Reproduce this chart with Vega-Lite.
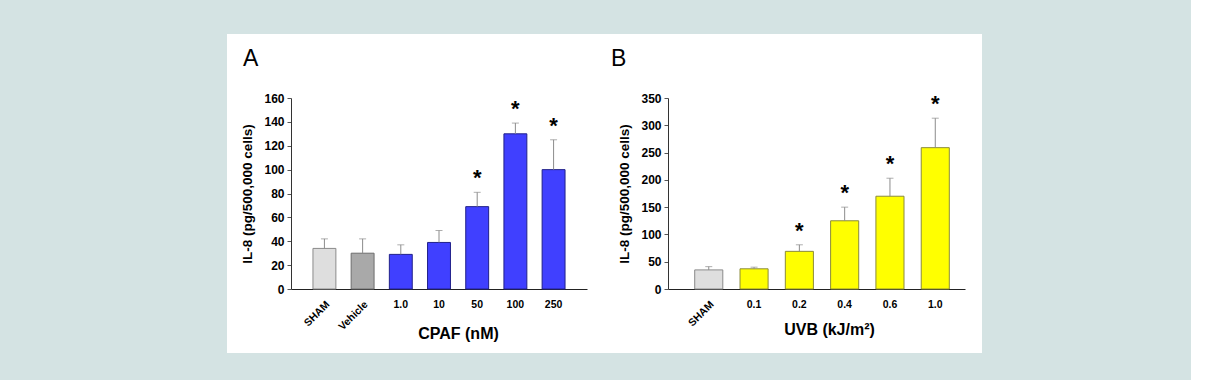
{
  "$schema": "https://vega.github.io/schema/vega-lite/v6.json",
  "autosize": {"type": "none"},
  "padding": {"left": 291, "top": 98, "right": 900, "bottom": 282},
  "background": "#d4e3e3",
  "spacing": 81,
  "bounds": "flush",
  "resolve": {"scale": {"fill": "independent", "stroke": "independent"}},
  "config": {
    "font": "Liberation Sans",
    "axis": {"grid": false, "labelFont": "Liberation Sans", "titleFont": "Liberation Sans", "labelColor": "#000", "titleColor": "#000", "labelFontWeight": "bold", "titleFontWeight": "bold", "domainColor": "#333"},
    "title": {"font": "Liberation Sans", "fontWeight": "normal", "fontSize": 23, "color": "#000", "anchor": "start", "frame": "group", "baseline": "alphabetic"}
  },
  "hconcat": [
    {
      "width": 296,
      "height": 191,
      "view": {"fill": "white", "stroke": "white", "strokeWidth": 128},
      "title": {"text": "A", "dx": -48, "offset": 21},
      "data": {"values": [
        {"treatment": "SHAM", "group": "SHAM", "value": 34, "upper": 42, "star": ""},
        {"treatment": "Vehicle", "group": "Vehicle", "value": 30, "upper": 42, "star": ""},
        {"treatment": "1.0", "group": "CPAF", "value": 29, "upper": 37, "star": ""},
        {"treatment": "10", "group": "CPAF", "value": 39, "upper": 49, "star": ""},
        {"treatment": "50", "group": "CPAF", "value": 69, "upper": 81, "star": "*"},
        {"treatment": "100", "group": "CPAF", "value": 130, "upper": 139, "star": "*"},
        {"treatment": "250", "group": "CPAF", "value": 100, "upper": 125, "star": "*"}
      ]},
      "encoding": {
        "x": {"field": "treatment", "type": "nominal", "sort": null,
          "scale": {"paddingInner": 0.4, "paddingOuter": 0.575},
          "axis": {"title": "CPAF (nM)", "titleFontSize": 16, "titlePadding": -7, "titleX": 167, "ticks": false, "labelFontSize": 10.5, "labelPadding": 10, "domainColor": "#222",
            "labelAngle": {"expr": "datum.value === 'SHAM' || datum.value === 'Vehicle' ? -45 : 0"},
            "labelAlign": {"expr": "datum.value === 'SHAM' || datum.value === 'Vehicle' ? 'right' : 'center'"},
            "labelBaseline": "top"}},
        "y": {"field": "value", "type": "quantitative",
          "scale": {"domain": [0, 160], "nice": false},
          "axis": {"title": "IL-8 (pg/500,000 cells)", "values": [0, 20, 40, 60, 80, 100, 120, 140, 160], "tickSize": 4, "tickColor": "#555", "labelPadding": 3, "labelFontSize": 12, "titleFontSize": 13.5, "titlePadding": 9}}
      },
      "layer": [
        {"mark": {"type": "bar", "strokeWidth": 1},
         "encoding": {
           "fill": {"field": "group", "type": "nominal", "legend": null, "scale": {"domain": ["SHAM", "Vehicle", "CPAF"], "range": ["#dedede", "#a9a9a9", "#4040ff"]}},
           "stroke": {"field": "group", "type": "nominal", "legend": null, "scale": {"domain": ["SHAM", "Vehicle", "CPAF"], "range": ["#8a8a8a", "#6e6e6e", "#20208a"]}}}},
        {"mark": {"type": "rule", "color": "#8c8c8c", "strokeWidth": 1},
         "encoding": {"y": {"field": "value", "type": "quantitative"}, "y2": {"field": "upper"}}},
        {"mark": {"type": "tick", "orient": "horizontal", "color": "#8c8c8c", "size": 7, "thickness": 1},
         "encoding": {"y": {"field": "upper", "type": "quantitative"}}},
        {"mark": {"type": "text", "fontSize": 22, "fontWeight": "bold", "baseline": "alphabetic", "dy": -7, "color": "#000"},
         "encoding": {"y": {"field": "upper", "type": "quantitative"}, "text": {"field": "star"}}}
      ]
    },
    {
      "width": 297,
      "height": 191,
      "view": {"fill": "white", "stroke": "white", "strokeWidth": 128},
      "title": {"text": "B", "dx": -57, "offset": 21},
      "data": {"values": [
        {"treatment": "SHAM", "group": "SHAM", "value": 35, "upper": 41, "star": ""},
        {"treatment": "0.1", "group": "UVB", "value": 37, "upper": 40, "star": ""},
        {"treatment": "0.2", "group": "UVB", "value": 69, "upper": 81, "star": "*"},
        {"treatment": "0.4", "group": "UVB", "value": 125, "upper": 150, "star": "*"},
        {"treatment": "0.6", "group": "UVB", "value": 170, "upper": 203, "star": "*"},
        {"treatment": "1.0", "group": "UVB", "value": 259, "upper": 313, "star": "*"}
      ]},
      "encoding": {
        "x": {"field": "treatment", "type": "nominal", "sort": null,
          "scale": {"paddingInner": 0.38, "paddingOuter": 0.468, "align": 0.63},
          "axis": {"title": "UVB (kJ/m²)", "titleFontSize": 16, "titlePadding": -7, "titleX": 161, "ticks": false, "labelFontSize": 10.5, "labelPadding": 10, "domainColor": "#222",
            "labelAngle": {"expr": "datum.value === 'SHAM' ? -45 : 0"},
            "labelAlign": {"expr": "datum.value === 'SHAM' ? 'right' : 'center'"},
            "labelBaseline": "top"}},
        "y": {"field": "value", "type": "quantitative",
          "scale": {"domain": [0, 350], "nice": false},
          "axis": {"title": "IL-8 (pg/500,000 cells)", "values": [0, 50, 100, 150, 200, 250, 300, 350], "tickSize": 4, "tickColor": "#555", "labelPadding": 3, "labelFontSize": 12, "titleFontSize": 13.5, "titlePadding": 9}}
      },
      "layer": [
        {"mark": {"type": "bar", "strokeWidth": 1},
         "encoding": {
           "fill": {"field": "group", "type": "nominal", "legend": null, "scale": {"domain": ["SHAM", "UVB"], "range": ["#dedede", "#ffff00"]}},
           "stroke": {"field": "group", "type": "nominal", "legend": null, "scale": {"domain": ["SHAM", "UVB"], "range": ["#8a8a8a", "#8b8b3a"]}}}},
        {"mark": {"type": "rule", "color": "#8c8c8c", "strokeWidth": 1},
         "encoding": {"y": {"field": "value", "type": "quantitative"}, "y2": {"field": "upper"}}},
        {"mark": {"type": "tick", "orient": "horizontal", "color": "#8c8c8c", "size": 7, "thickness": 1},
         "encoding": {"y": {"field": "upper", "type": "quantitative"}}},
        {"mark": {"type": "text", "fontSize": 22, "fontWeight": "bold", "baseline": "alphabetic", "dy": -7, "color": "#000"},
         "encoding": {"y": {"field": "upper", "type": "quantitative"}, "text": {"field": "star"}}}
      ]
    },
    {
      "width": 1,
      "height": 191,
      "view": {"fill": "#d4e3e3", "stroke": "#d4e3e3", "strokeWidth": 128},
      "data": {"values": []},
      "mark": {"type": "point", "opacity": 0},
      "encoding": {}
    }
  ]
}
